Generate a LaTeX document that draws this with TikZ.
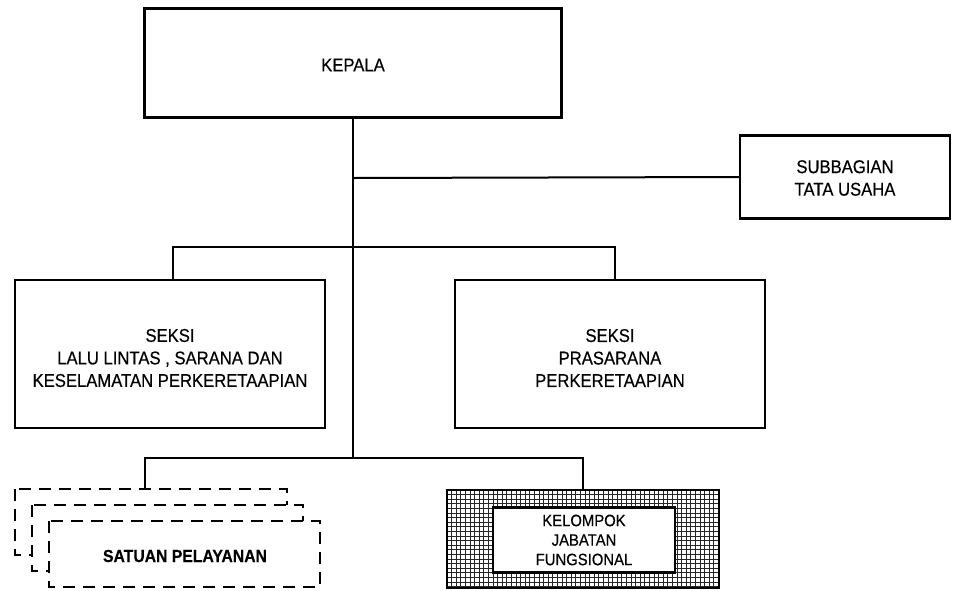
\documentclass[tikz,border=0pt]{standalone}
\usepackage{fontspec}
\setmainfont[FakeStretch=0.9,FakeBold=0.4]{Liberation Sans}
\begin{document}
\begin{tikzpicture}[x=1pt,y=-1pt,
  box/.style={draw=black,line width=2.4pt,fill=white,rectangle,inner sep=0pt},
  txt/.style={inner sep=0pt,align=center,font=\fontsize{18.5}{22.5}\selectfont},
  dbox/.style={draw=black,line width=2.6pt,fill=white,dash pattern=on 12pt off 8pt},
  conn/.style={draw=black,line width=2pt},
  gridline/.style={draw=black!85,line width=0.9pt}]
\useasboundingbox (0,0) rectangle (953,590);
\node[box,minimum width=417,minimum height=109] (kepala) at (353,63) {};
\node[txt] (kepalat) at ([yshift=-2pt]kepala.center) {KEPALA};
\node[box,minimum width=210,minimum height=83] (sub) at (845,177) {};
\node[txt] (subt) at ([yshift=-1pt]sub.center) {SUBBAGIAN\\TATA USAHA};
\node[box,minimum width=310,minimum height=148] (s1) at (170,354) {};
\node[txt] (s1t) at ([yshift=-4pt]s1.center) {SEKSI\\LALU LINTAS , SARANA DAN\\KESELAMATAN PERKERETAAPIAN};
\node[box,minimum width=310,minimum height=148] (s2) at (610,354) {};
\node[txt] (s2t) at ([yshift=-4pt]s2.center) {SEKSI\\PRASARANA\\PERKERETAAPIAN};
% satuan pelayanan stacked dashed boxes
\draw[dbox] (15,489) rectangle (287,555);
\draw[dbox] (32,505) rectangle (303,571);
\draw[dbox] (49,521) rectangle (320,587);
\node[font=\fontsize{17.5}{20}\selectfont\bfseries,inner sep=0pt] (sat) at (185,556) {SATUAN PELAYANAN};
\coordinate (sattop) at (145,489);
% kelompok jabatan fungsional
\node[rectangle,minimum width=272,minimum height=98,inner sep=0pt] (kel) at (583,539) {};
\foreach \gx in {0,4.6,...,272} \draw[gridline] (447+\gx,490) -- (447+\gx,588);
\foreach \gy in {0,4.6,...,98} \draw[gridline] (447,490+\gy) -- (719,490+\gy);
\draw[line width=2.4pt] (kel.south west) rectangle (kel.north east);
\node[box,minimum width=182,minimum height=65] (kin) at (584,540) {};
\node[txt,font=\fontsize{16.5}{19.5}\selectfont] (kint) at (kin.center) {KELOMPOK\\JABATAN\\FUNGSIONAL};
% connectors
\coordinate (t1) at (353,178);
\coordinate (t2) at (353,247);
\coordinate (t3) at (353,458);
\draw[conn] (kepala.south) -- (t3);
\draw[conn] (t1) -- (sub.west);
\draw[conn] ([xshift=3]s1.north) |- (t2) -| ([xshift=5]s2.north);
\draw[conn] (sattop) |- (t3) -| (kel.north);
\end{tikzpicture}
\end{document}
